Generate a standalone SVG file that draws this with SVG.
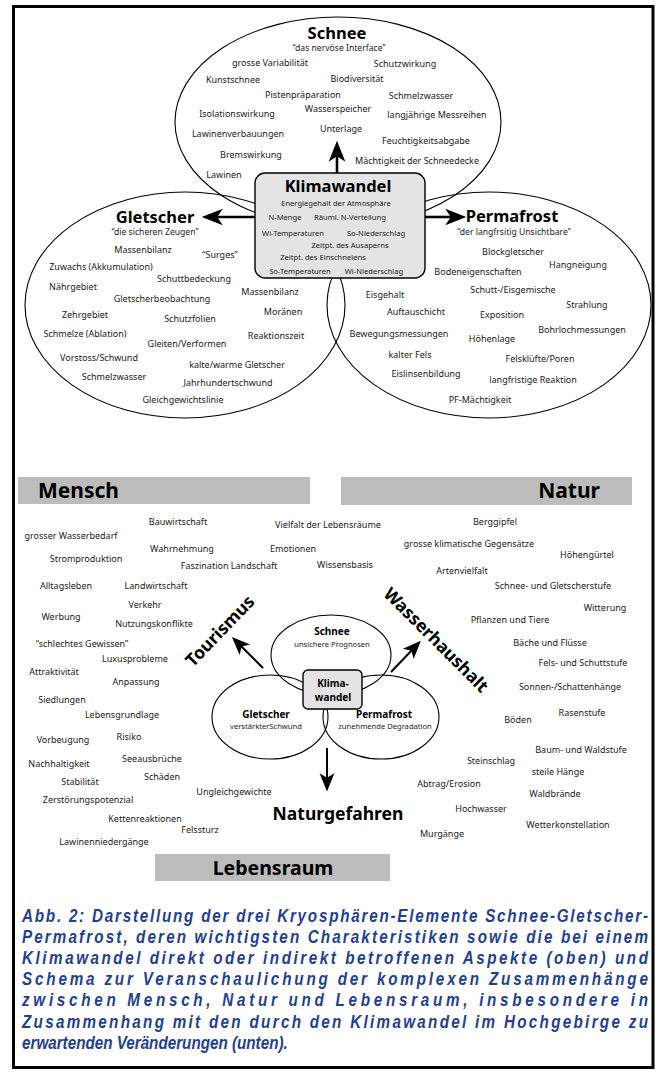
<svg xmlns="http://www.w3.org/2000/svg" width="659" height="1073" viewBox="0 0 659 1073">
<style>
.t{font-family:"Noto Sans","Open Sans",sans-serif;font-size:9px;fill:#1a1a1a;text-anchor:middle}
.s{font-size:7.6px}
.q{font-size:8.6px}
.b{font-weight:bold;fill:#000}
.h1{font-size:16.5px}
.h2{font-size:17.5px}
.h3{font-size:21px}
.h4{font-size:10px}
.e{fill:none;stroke:#000;stroke-width:1.1}
.box{fill:#e4e4e4;stroke:#000;stroke-width:1.4}
.bar{fill:#bcbcbc}
.ar{stroke:#000;stroke-width:2.6;fill:none}
.ar2{stroke:#000;stroke-width:2;fill:none}
.cap{font-family:"Liberation Sans",Arial,sans-serif;font-weight:bold;font-style:italic;font-size:17.5px;fill:#233e95}
</style>
<defs>
<marker id="ah" markerUnits="userSpaceOnUse" markerWidth="30" markerHeight="20" viewBox="-8 -9 22 18" refX="0" refY="0" orient="auto">
<path d="M12,0 L-7,-7.5 L-2,0 L-7,7.5 Z" fill="#000"/>
</marker>
<marker id="ah2" markerUnits="userSpaceOnUse" markerWidth="24" markerHeight="16" viewBox="-7 -7 18 14" refX="0" refY="0" orient="auto">
<path d="M10,0 L-6,-6.5 L-2,0 L-6,6.5 Z" fill="#000"/>
</marker>
</defs>
<rect x="13.5" y="6.5" width="639.5" height="1061" fill="#fff" stroke="#000" stroke-width="3"/>

<!-- top ellipses -->
<g id="top-schnee">
<ellipse class="e" cx="338" cy="122" rx="163" ry="105"/>
<text class="t b h1" x="337" y="39">Schnee</text>
<text class="t q" x="339" y="51">“das nervöse Interface”</text>
<text class="t" x="270" y="66">grosse Variabilität</text>
<text class="t" x="405" y="67">Schutzwirkung</text>
<text class="t" x="233" y="83">Kunstschnee</text>
<text class="t" x="357" y="82">Biodiversität</text>
<text class="t" x="303" y="98">Pistenpräparation</text>
<text class="t" x="421" y="99">Schmelzwasser</text>
<text class="t" x="237" y="117">Isolationswirkung</text>
<text class="t" x="338" y="112">Wasserspeicher</text>
<text class="t" x="437" y="118">langjährige Messreihen</text>
<text class="t" x="341" y="132">Unterlage</text>
<text class="t" x="238" y="137">Lawinenverbauungen</text>
<text class="t" x="426" y="144">Feuchtigkeitsabgabe</text>
<text class="t" x="251" y="158">Bremswirkung</text>
<text class="t" x="417" y="164">Mächtigkeit der Schneedecke</text>
<text class="t" x="224" y="178">Lawinen</text>
</g>
<g id="top-gletscher">
<ellipse class="e" cx="185" cy="305" rx="160" ry="113"/>
<text class="t b h1" x="155" y="223">Gletscher</text>
<text class="t q" x="155" y="235">“die sicheren Zeugen”</text>
<text class="t" x="143" y="253">Massenbilanz</text>
<text class="t" x="220" y="258">“Surges”</text>
<text class="t" x="101" y="270">Zuwachs (Akkumulation)</text>
<text class="t" x="194" y="282">Schuttbedeckung</text>
<text class="t" x="73" y="290">Nährgebiet</text>
<text class="t" x="270" y="295">Massenbilanz</text>
<text class="t" x="162" y="302">Gletscherbeobachtung</text>
<text class="t" x="85" y="318">Zehrgebiet</text>
<text class="t" x="283" y="315">Moränen</text>
<text class="t" x="190" y="322">Schutzfolien</text>
<text class="t" x="85" y="337">Schmelze (Ablation)</text>
<text class="t" x="276" y="339">Reaktionszeit</text>
<text class="t" x="187" y="347">Gleiten/Verformen</text>
<text class="t" x="99" y="361">Vorstoss/Schwund</text>
<text class="t" x="237" y="368">kalte/warme Gletscher</text>
<text class="t" x="114" y="380">Schmelzwasser</text>
<text class="t" x="228" y="386">Jahrhundertschwund</text>
<text class="t" x="183" y="403">Gleichgewichtslinie</text>
</g>
<g id="top-permafrost">
<ellipse class="e" cx="489" cy="305" rx="162" ry="113"/>
<text class="t b h1" x="512" y="222">Permafrost</text>
<text class="t q" x="514" y="235">“der langfrsitig Unsichtbare”</text>
<text class="t" x="513" y="255">Blockgletscher</text>
<text class="t" x="578" y="268">Hangneigung</text>
<text class="t" x="478" y="275">Bodeneigenschaften</text>
<text class="t" x="513" y="293">Schutt-/Eisgemische</text>
<text class="t" x="385" y="298">Eisgehalt</text>
<text class="t" x="587" y="308">Strahlung</text>
<text class="t" x="416" y="315">Auftauschicht</text>
<text class="t" x="502" y="318">Exposition</text>
<text class="t" x="399" y="337">Bewegungsmessungen</text>
<text class="t" x="582" y="333">Bohrlochmessungen</text>
<text class="t" x="492" y="342">Höhenlage</text>
<text class="t" x="410" y="358">kalter Fels</text>
<text class="t" x="540" y="362">Felsklüfte/Poren</text>
<text class="t" x="426" y="377">Eislinsenbildung</text>
<text class="t" x="533" y="383">langfristige Reaktion</text>
<text class="t" x="480" y="403">PF-Mächtigkeit</text>
</g>

<g id="connectors">
<line class="ar" x1="337" y1="173" x2="337" y2="154" marker-end="url(#ah)"/>
<line class="ar" x1="255" y1="217" x2="215" y2="217" marker-end="url(#ah)"/>
<line class="ar" x1="425" y1="217" x2="453" y2="217" marker-end="url(#ah)"/>
<line class="ar2" x1="263" y1="668" x2="240" y2="645" marker-end="url(#ah2)"/>
<line class="ar2" x1="391" y1="672" x2="413" y2="649" marker-end="url(#ah2)"/>
<line class="ar2" x1="327" y1="748" x2="327" y2="780" marker-end="url(#ah2)"/>
</g>

<g id="klimawandel">
<rect class="box" x="255" y="173" width="170" height="105" rx="10"/>
<text class="t b h1" x="338" y="192">Klimawandel</text>
<text class="t s" x="336" y="206">Energiegehalt der Atmosphäre</text>
<text class="t s" x="285" y="220">N-Menge</text>
<text class="t s" x="350" y="220">Räuml. N-Verteilung</text>
<text class="t s" x="293" y="236">Wi-Temperaturen</text>
<text class="t s" x="376" y="236">So-Niederschlag</text>
<text class="t s" x="350" y="248">Zeitpt. des Ausaperns</text>
<text class="t s" x="323" y="260">Zeitpt. des Einschneiens</text>
<text class="t s" x="300" y="274">So-Temperaturen</text>
<text class="t s" x="374" y="274">Wi-Niederschlag</text>
</g>

<!-- lower part -->
<g id="mensch">
<rect class="bar" x="18" y="477" width="292" height="27"/>
<text class="t b h3" x="38" y="498" style="text-anchor:start">Mensch</text>
</g>
<g id="natur">
<rect class="bar" x="341" y="477" width="291" height="28"/>
<text class="t b h3" x="600" y="498" style="text-anchor:end">Natur</text>
</g>
<g id="lebensraum">
<rect class="bar" x="155" y="854" width="235" height="27"/>
<text class="t b h3" x="273" y="875" style="font-size:19.5px">Lebensraum</text>
</g>

<g id="mensch-labels">
<text class="t" x="178" y="525">Bauwirtschaft</text>
<text class="t" x="328" y="528">Vielfalt der Lebensräume</text>
<text class="t" x="71" y="539">grosser Wasserbedarf</text>
<text class="t" x="182" y="552">Wahrnehmung</text>
<text class="t" x="293" y="552">Emotionen</text>
<text class="t" x="86" y="562">Stromproduktion</text>
<text class="t" x="229" y="569">Faszination Landschaft</text>
<text class="t" x="345" y="568">Wissensbasis</text>
<text class="t" x="66" y="589">Alltagsleben</text>
<text class="t" x="156" y="589">Landwirtschaft</text>
<text class="t" x="145" y="608">Verkehr</text>
<text class="t" x="61" y="620">Werbung</text>
<text class="t" x="154" y="627">Nutzungskonflikte</text>
<text class="t" x="82" y="647">“schlechtes Gewissen”</text>
<text class="t" x="135" y="662">Luxusprobleme</text>
<text class="t" x="54" y="675">Attraktivität</text>
<text class="t" x="136" y="685">Anpassung</text>
<text class="t" x="62" y="703">Siedlungen</text>
<text class="t" x="122" y="718">Lebensgrundlage</text>
<text class="t" x="63" y="743">Vorbeugung</text>
<text class="t" x="129" y="740">Risiko</text>
<text class="t" x="152" y="762">Seeausbrüche</text>
<text class="t" x="59" y="767">Nachhaltigkeit</text>
<text class="t" x="162" y="780">Schäden</text>
<text class="t" x="80" y="785">Stabilität</text>
<text class="t" x="234" y="795">Ungleichgewichte</text>
<text class="t" x="88" y="803">Zerstörungspotenzial</text>
<text class="t" x="145" y="822">Kettenreaktionen</text>
<text class="t" x="200" y="833">Felssturz</text>
<text class="t" x="104" y="845">Lawinenniedergänge</text>
</g>

<g id="natur-labels">
<text class="t" x="495" y="525">Berggipfel</text>
<text class="t" x="469" y="547">grosse klimatische Gegensätze</text>
<text class="t" x="587" y="558">Höhengürtel</text>
<text class="t" x="462" y="574">Artenvielfalt</text>
<text class="t" x="553" y="589">Schnee- und Gletscherstufe</text>
<text class="t" x="605" y="611">Witterung</text>
<text class="t" x="510" y="623">Pflanzen und Tiere</text>
<text class="t" x="550" y="646">Bäche und Flüsse</text>
<text class="t" x="583" y="666">Fels- und Schuttstufe</text>
<text class="t" x="570" y="690">Sonnen-/Schattenhänge</text>
<text class="t" x="582" y="716">Rasenstufe</text>
<text class="t" x="518" y="723">Böden</text>
<text class="t" x="581" y="753">Baum- und Waldstufe</text>
<text class="t" x="491" y="764">Steinschlag</text>
<text class="t" x="558" y="775">steile Hänge</text>
<text class="t" x="449" y="787">Abtrag/Erosion</text>
<text class="t" x="555" y="797">Waldbrände</text>
<text class="t" x="481" y="812">Hochwasser</text>
<text class="t" x="568" y="828">Wetterkonstellation</text>
<text class="t" x="442" y="837">Murgänge</text>
</g>

<g id="small-schnee">
<ellipse class="e" cx="331" cy="655" rx="60" ry="40"/>
<text class="t b h4" x="332" y="635">Schnee</text>
<text class="t s" x="332" y="647">unsichere Prognosen</text>
</g>
<g id="small-gletscher">
<ellipse class="e" cx="270" cy="717" rx="58" ry="42"/>
<text class="t b h4" x="266" y="718">Gletscher</text>
<text class="t s" x="266" y="729">verstärkterSchwund</text>
</g>
<g id="small-permafrost">
<ellipse class="e" cx="381" cy="717" rx="58" ry="42"/>
<text class="t b h4" x="384" y="718">Permafrost</text>
<text class="t s" x="385" y="729">zunehmende Degradation</text>
</g>
<g id="small-klimawandel">
<rect class="box" x="303" y="670" width="59" height="39" rx="5"/>
<text class="t b h4" x="333" y="687">Klima-</text>
<text class="t b h4" x="333" y="701">wandel</text>
</g>

<g id="tourismus">
<text class="t b h2" transform="translate(220,631) rotate(-46)" x="0" y="6">Tourismus</text>
</g>
<g id="wasserhaushalt">
<text class="t b h2" transform="translate(436,640) rotate(45)" x="0" y="6">Wasserhaushalt</text>
</g>
<g id="naturgefahren">
<text class="t b h2" x="338" y="820">Naturgefahren</text>
</g>

<g id="caption" transform="translate(22,0) scale(0.87,1)">
<text class="cap" x="0" y="922" textLength="719.5" lengthAdjust="spacing">Abb. 2: Darstellung der drei Kryosphären-Elemente Schnee-Gletscher-</text>
<text class="cap" x="0" y="943" textLength="719.5" lengthAdjust="spacing">Permafrost, deren wichtigsten Charakteristiken sowie die bei einem</text>
<text class="cap" x="0" y="964" textLength="719.5" lengthAdjust="spacing">Klimawandel direkt oder indirekt betroffenen Aspekte (oben) und</text>
<text class="cap" x="0" y="985" textLength="719.5" lengthAdjust="spacing">Schema zur Veranschaulichung der komplexen Zusammenhänge</text>
<text class="cap" x="0" y="1006" textLength="719.5" lengthAdjust="spacing">zwischen Mensch, Natur und Lebensraum, insbesondere in</text>
<text class="cap" x="0" y="1028" textLength="719.5" lengthAdjust="spacing">Zusammenhang mit den durch den Klimawandel im Hochgebirge zu</text>
<text class="cap" x="0" y="1049">erwartenden Veränderungen (unten).</text>
</g>
</svg>
